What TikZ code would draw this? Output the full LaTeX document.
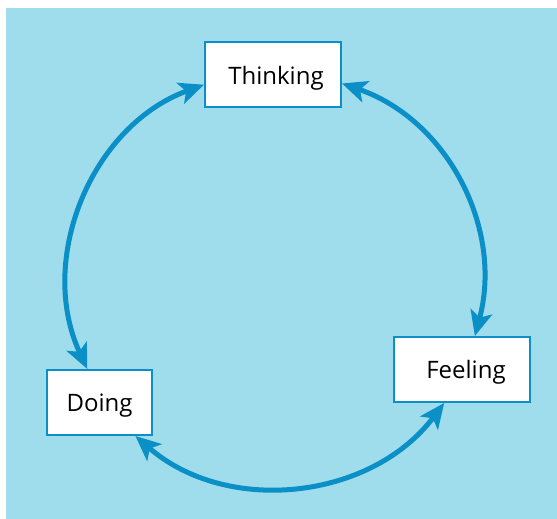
\documentclass[tikz,border=0pt]{standalone}
\usepackage{fontspec}
\setmainfont{Open Sans}
\usetikzlibrary{arrows.meta}
\definecolor{bgblue}{HTML}{9FDDEC}
\definecolor{cycleblue}{HTML}{0A90C7}
\tikzset{
  stage/.style={draw=cycleblue, line width=1pt, fill=white,
    minimum width=68pt, minimum height=32.5pt, text depth=0pt,
    font=\fontsize{12}{14}\selectfont},
  cyclearrow/.style={draw=cycleblue, line width=2.5pt,
    {Stealth[length=12.5pt,width=11pt,inset=3pt]}-{Stealth[length=12.5pt,width=11pt,inset=3pt]}}
}
\begin{document}
\begin{tikzpicture}[x=0.5pt,y=-0.5pt]
\useasboundingbox (0,0) rectangle (557,519);
\fill[bgblue] (6,8) rectangle (557,519);
\node[stage] (think) at (273,75) {\hspace{3pt}Thinking};
\node[stage] (feel) at (462,369.5) {\hspace{4pt}Feeling};
\node[stage, minimum width=52.5pt] (do) at (99.5,402.5) {Doing};
\draw[cyclearrow] (do.110) to[out=115,in=200] (think.188);
\draw[cyclearrow] (think.-7) to[out=-19,in=75] (feel.69);
\draw[cyclearrow] (do.-43) to[out=-41,in=233] (feel.242);
\end{tikzpicture}
\end{document}
